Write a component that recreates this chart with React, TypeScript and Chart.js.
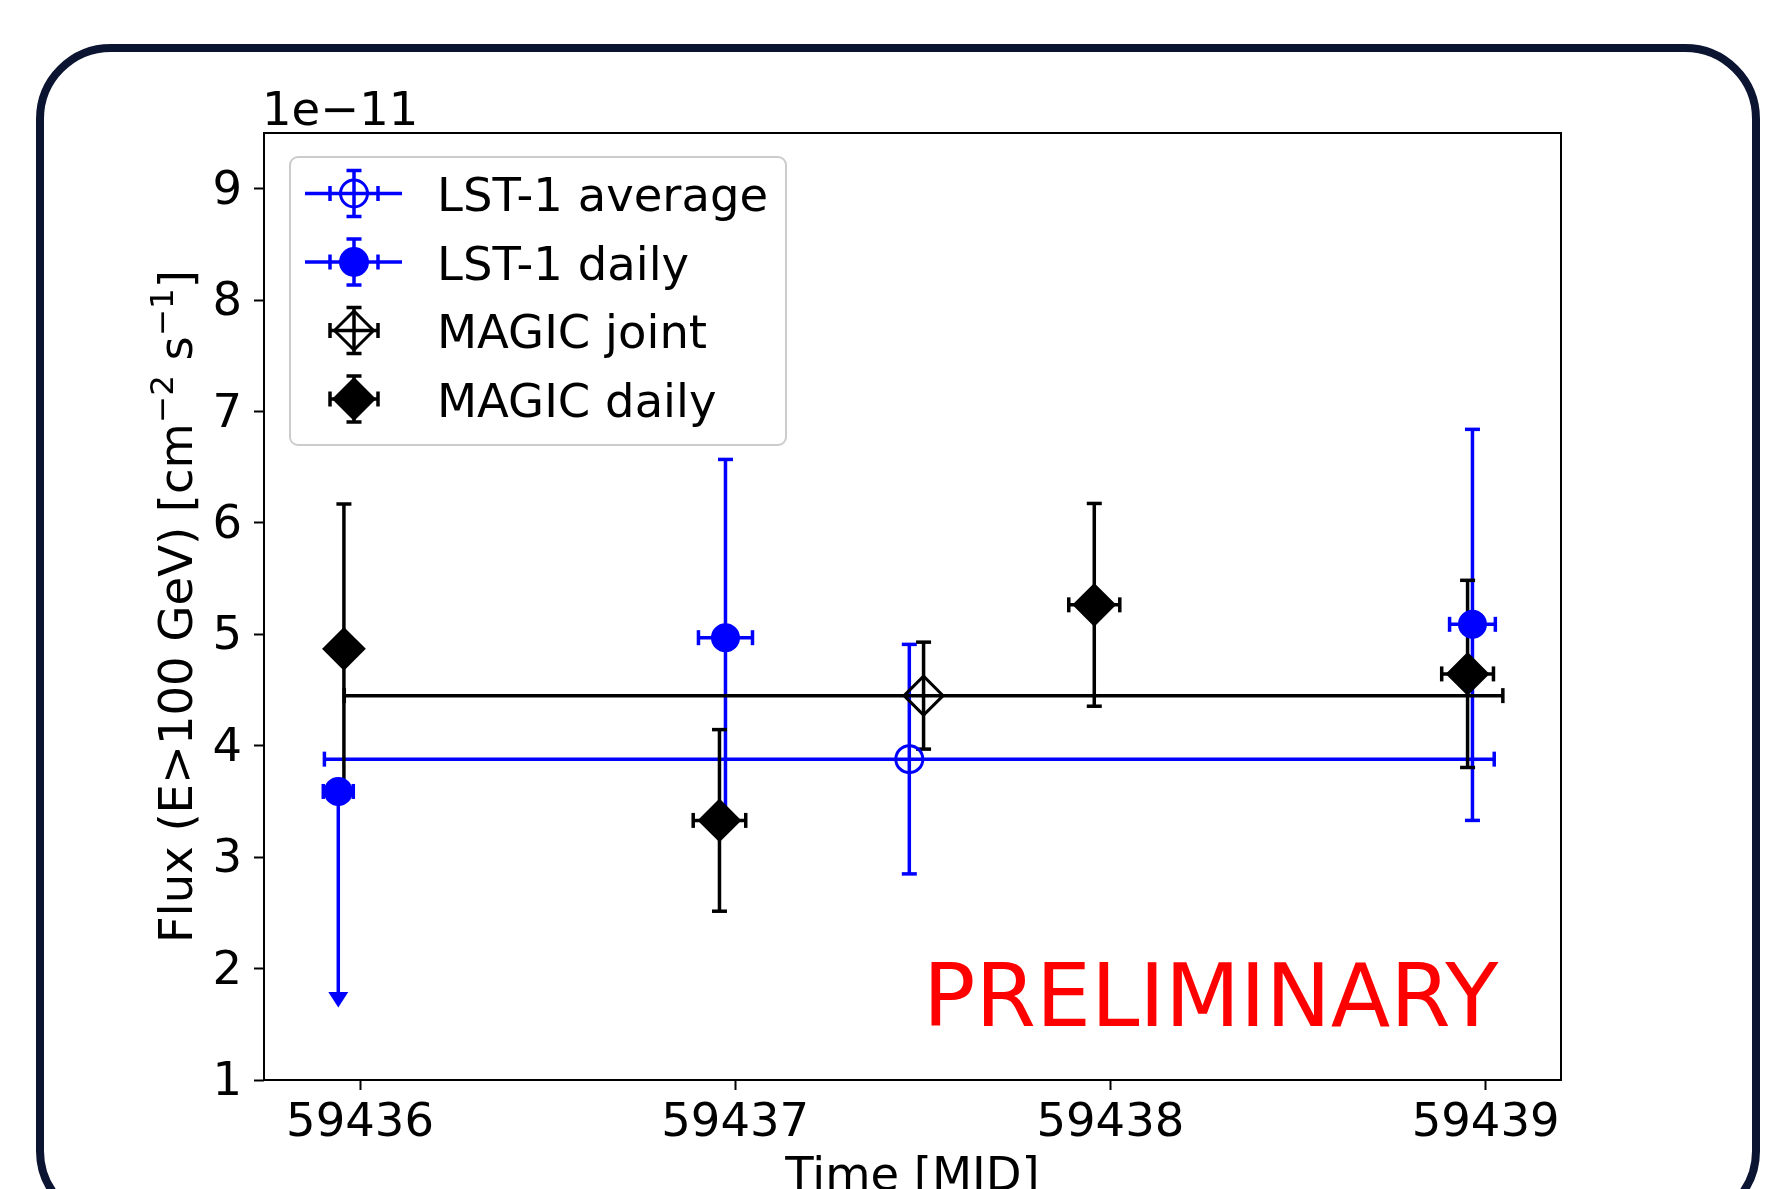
import React, { useEffect, useRef } from 'react';
import { Chart, registerables } from 'chart.js';

Chart.register(...registerables);

const FONT = '"DejaVu Sans", "Liberation Sans", sans-serif';
const BLUE = '#0000ff';
const BLACK = '#000000';
const FS = 46.5;

// ---------------- data ----------------
const xTicks = [59436, 59437, 59438, 59439];
const yTicks = [1, 2, 3, 4, 5, 6, 7, 8, 9];
const X_MIN = 59435.744;
const X_MAX = 59439.201;
const Y_MIN = 1;
const Y_MAX = 9.5;

// LST-1 average (flux in units of 1e-11 cm^-2 s^-1)
const lstAvgMJD = [59437.464];
const lstAvgFlux = [3.88];
const lstAvgXErr = [1.559];
const lstAvgYErr = [1.03];

// LST-1 daily
const lstDailyMJD = [59435.942, 59436.974, 59438.965];
const lstDailyFlux = [3.59, 4.97, 5.09];
const lstDailyXErr = [0.04, 0.072, 0.061];
const lstDailyYErrLow = [1.8, 1.6, 1.76];
const lstDailyYErrHigh = [0, 1.6, 1.75];
const lstDailyUpperLimit = [true, false, false];

// MAGIC joint
const magicJointMJD = [59437.502];
const magicJointFlux = [4.45];
const magicJointXErr = [1.544];
const magicJointYErr = [0.48];

// MAGIC daily
const magicDailyMJD = [59435.957, 59436.958, 59437.957, 59438.952];
const magicDailyFlux = [4.87, 3.33, 5.265, 4.645];
const magicDailyXErr = [0, 0.07, 0.068, 0.069];
const magicDailyYErr = [1.3, 0.815, 0.91, 0.84];

const legendLabels = ['LST-1 average', 'LST-1 daily', 'MAGIC joint', 'MAGIC daily'];

// -------------- derived structures --------------
type EB = { x: number; y: number; xerr: number; lo: number; hi: number; ul: boolean };

const errorSeries: { color: string; pts: EB[] }[] = [
  {
    color: BLUE,
    pts: lstAvgMJD.map((x, i) => ({ x, y: lstAvgFlux[i], xerr: lstAvgXErr[i], lo: lstAvgYErr[i], hi: lstAvgYErr[i], ul: false })),
  },
  {
    color: BLUE,
    pts: lstDailyMJD.map((x, i) => ({
      x,
      y: lstDailyFlux[i],
      xerr: lstDailyXErr[i],
      lo: lstDailyYErrLow[i],
      hi: lstDailyYErrHigh[i],
      ul: lstDailyUpperLimit[i],
    })),
  },
  {
    color: BLACK,
    pts: magicJointMJD.map((x, i) => ({ x, y: magicJointFlux[i], xerr: magicJointXErr[i], lo: magicJointYErr[i], hi: magicJointYErr[i], ul: false })),
  },
  {
    color: BLACK,
    pts: magicDailyMJD.map((x, i) => ({ x, y: magicDailyFlux[i], xerr: magicDailyXErr[i], lo: magicDailyYErr[i], hi: magicDailyYErr[i], ul: false })),
  },
];

const LW = 3.5;
const CAP = 7.5;

function seg(ctx: CanvasRenderingContext2D, x0: number, y0: number, x1: number, y1: number) {
  ctx.beginPath();
  ctx.moveTo(x0, y0);
  ctx.lineTo(x1, y1);
  ctx.stroke();
}

const errorBarPlugin = {
  id: 'errorBars',
  beforeDatasetsDraw(chart: any) {
    const { ctx, scales } = chart;
    const xs = scales.x;
    const ys = scales.y;
    ctx.save();
    ctx.lineWidth = LW;
    ctx.lineCap = 'butt';
    for (const s of errorSeries) {
      ctx.strokeStyle = s.color;
      ctx.fillStyle = s.color;
      for (const p of s.pts) {
        const px = xs.getPixelForValue(p.x);
        const py = ys.getPixelForValue(p.y);
        if (p.xerr > 0) {
          const x0 = xs.getPixelForValue(p.x - p.xerr);
          const x1 = xs.getPixelForValue(p.x + p.xerr);
          seg(ctx, x0, py, x1, py);
          seg(ctx, x0, py - CAP, x0, py + CAP);
          seg(ctx, x1, py - CAP, x1, py + CAP);
        }
        const yTop = ys.getPixelForValue(p.y + p.hi);
        const yBot = ys.getPixelForValue(p.y - p.lo);
        seg(ctx, px, yTop, px, yBot);
        if (p.hi > 0) seg(ctx, px - CAP, yTop, px + CAP, yTop);
        if (p.ul) {
          ctx.beginPath();
          ctx.moveTo(px - 10, yBot);
          ctx.lineTo(px + 10, yBot);
          ctx.lineTo(px, yBot + 15.5);
          ctx.closePath();
          ctx.fill();
        } else {
          seg(ctx, px - CAP, yBot, px + CAP, yBot);
        }
      }
    }
    ctx.restore();
  },
};

const framePlugin = {
  id: 'frame',
  afterDatasetsDraw(chart: any) {
    const { ctx, chartArea } = chart;
    ctx.save();
    ctx.strokeStyle = BLACK;
    ctx.lineWidth = 2;
    ctx.strokeRect(chartArea.left, chartArea.top, chartArea.right - chartArea.left, chartArea.bottom - chartArea.top);
    ctx.restore();
  },
};

function drawLegendHandle(ctx: CanvasRenderingContext2D, idx: number, cx: number, cy: number) {
  const color = idx < 2 ? BLUE : BLACK;
  ctx.strokeStyle = color;
  ctx.fillStyle = color;
  ctx.lineWidth = LW;
  if (idx < 2) seg(ctx, cx - 49, cy, cx + 48, cy);
  else seg(ctx, cx - 24, cy, cx + 24, cy);
  seg(ctx, cx - 24, cy - CAP, cx - 24, cy + CAP);
  seg(ctx, cx + 24, cy - CAP, cx + 24, cy + CAP);
  seg(ctx, cx, cy - 23, cx, cy + 23);
  seg(ctx, cx - CAP, cy - 23, cx + CAP, cy - 23);
  seg(ctx, cx - CAP, cy + 23, cx + CAP, cy + 23);
  ctx.beginPath();
  if (idx === 0) {
    ctx.lineWidth = 3;
    ctx.arc(cx, cy, 13.5, 0, Math.PI * 2);
    ctx.stroke();
  } else if (idx === 1) {
    ctx.arc(cx, cy, 15, 0, Math.PI * 2);
    ctx.fill();
  } else {
    const r = idx === 2 ? 19.5 : 22;
    ctx.moveTo(cx - r, cy);
    ctx.lineTo(cx, cy - r);
    ctx.lineTo(cx + r, cy);
    ctx.lineTo(cx, cy + r);
    ctx.closePath();
    if (idx === 2) {
      ctx.lineWidth = 3;
      ctx.lineJoin = 'miter';
      ctx.stroke();
    } else {
      ctx.fill();
    }
  }
}

function roundRect(ctx: CanvasRenderingContext2D, x: number, y: number, w: number, h: number, r: number) {
  ctx.beginPath();
  ctx.moveTo(x + r, y);
  ctx.lineTo(x + w - r, y);
  ctx.arcTo(x + w, y, x + w, y + r, r);
  ctx.lineTo(x + w, y + h - r);
  ctx.arcTo(x + w, y + h, x + w - r, y + h, r);
  ctx.lineTo(x + r, y + h);
  ctx.arcTo(x, y + h, x, y + h - r, r);
  ctx.lineTo(x, y + r);
  ctx.arcTo(x, y, x + r, y, r);
  ctx.closePath();
}

const textPlugin = {
  id: 'texts',
  afterDraw(chart: any) {
    const { ctx, chartArea } = chart;
    ctx.save();
    ctx.fillStyle = BLACK;
    ctx.textBaseline = 'alphabetic';

    // offset text
    ctx.font = `${FS}px ${FONT}`;
    ctx.textAlign = 'left';
    ctx.fillText('1e\u221211', chartArea.left - 2, 125);

    // x title
    ctx.textAlign = 'center';
    ctx.fillText('Time [MJD]', (chartArea.left + chartArea.right) / 2, 1190);

    // y title with superscripts
    const parts = [
      { t: 'Flux (E>100 GeV) [cm', sup: false },
      { t: '\u22122', sup: true },
      { t: ' s', sup: false },
      { t: '\u22121', sup: true },
      { t: ']', sup: false },
    ];
    const mainFont = `${FS}px ${FONT}`;
    const supFont = `${FS * 0.7}px ${FONT}`;
    let total = 0;
    for (const p of parts) {
      ctx.font = p.sup ? supFont : mainFont;
      total += ctx.measureText(p.t).width;
    }
    ctx.save();
    ctx.translate(192, (chartArea.top + chartArea.bottom) / 2);
    ctx.rotate(-Math.PI / 2);
    ctx.textAlign = 'left';
    let xx = -total / 2;
    for (const p of parts) {
      ctx.font = p.sup ? supFont : mainFont;
      ctx.fillText(p.t, xx, p.sup ? -19.5 : 0);
      xx += ctx.measureText(p.t).width;
    }
    ctx.restore();

    // PRELIMINARY
    ctx.fillStyle = '#ff0000';
    ctx.font = `87px ${FONT}`;
    ctx.textAlign = 'left';
    ctx.fillText('PRELIMINARY', 923, 1026);

    // legend
    ctx.fillStyle = 'rgba(255,255,255,0.8)';
    roundRect(ctx, 290, 157, 496, 288, 8);
    ctx.fill();
    ctx.strokeStyle = '#cccccc';
    ctx.lineWidth = 2;
    ctx.stroke();
    const rowY = [193.5, 262, 330.5, 399];
    legendLabels.forEach((lab, i) => {
      ctx.save();
      drawLegendHandle(ctx, i, 354, rowY[i]);
      ctx.restore();
      ctx.fillStyle = BLACK;
      ctx.font = `${FS}px ${FONT}`;
      ctx.textAlign = 'left';
      ctx.textBaseline = 'alphabetic';
      ctx.fillText(lab, 437, rowY[i] + 17.5);
    });
    ctx.restore();
  },
};

export default function App() {
  const canvasRef = useRef<HTMLCanvasElement | null>(null);

  useEffect(() => {
    const canvas = canvasRef.current;
    if (!canvas) return;
    const toPts = (xs: number[], ys: number[]) => xs.map((x, i) => ({ x, y: ys[i] }));
    const tickFont = { family: FONT, size: FS };
    const axisCommon = {
      type: 'linear' as const,
      border: { display: false },
      grid: {
        display: true,
        drawOnChartArea: false,
        drawTicks: true,
        tickLength: 10,
        tickWidth: 2,
        tickColor: BLACK,
      },
    };
    const chart = new Chart(canvas, {
      type: 'scatter',
      data: {
        datasets: [
          {
            label: legendLabels[0],
            data: toPts(lstAvgMJD, lstAvgFlux),
            pointStyle: 'circle',
            pointRadius: 13.5,
            pointHoverRadius: 13.5,
            backgroundColor: 'rgba(0,0,0,0)',
            borderColor: BLUE,
            borderWidth: 3,
            order: 3,
          },
          {
            label: legendLabels[1],
            data: toPts(lstDailyMJD, lstDailyFlux),
            pointStyle: 'circle',
            pointRadius: 13.5,
            pointHoverRadius: 13.5,
            backgroundColor: BLUE,
            borderColor: BLUE,
            borderWidth: 2,
            order: 2,
          },
          {
            label: legendLabels[2],
            data: toPts(magicJointMJD, magicJointFlux),
            pointStyle: 'rectRot',
            pointRadius: 19.5,
            pointHoverRadius: 19.5,
            backgroundColor: 'rgba(0,0,0,0)',
            borderColor: BLACK,
            borderWidth: 3,
            order: 1,
          },
          {
            label: legendLabels[3],
            data: toPts(magicDailyMJD, magicDailyFlux),
            pointStyle: 'rectRot',
            pointRadius: 20.5,
            pointHoverRadius: 20.5,
            backgroundColor: BLACK,
            borderColor: BLACK,
            borderWidth: 2,
            order: 0,
          },
        ],
      },
      options: {
        responsive: false,
        devicePixelRatio: 1,
        animation: false,
        events: [],
        layout: { padding: { left: 0, top: 133, right: 226, bottom: 0 } },
        plugins: {
          legend: { display: false },
          tooltip: { enabled: false },
          title: { display: false },
        },
        scales: {
          x: {
            ...axisCommon,
            position: 'bottom',
            min: X_MIN,
            max: X_MAX,
            afterFit: (s: any) => {
              s.height = 109;
            },
            afterBuildTicks: (s: any) => {
              s.ticks = xTicks.map((v) => ({ value: v }));
            },
            ticks: {
              font: tickFont,
              color: BLACK,
              padding: 6,
              maxRotation: 0,
              autoSkip: false,
              callback: (v: any) => String(v),
            },
          },
          y: {
            ...axisCommon,
            position: 'left',
            min: Y_MIN,
            max: Y_MAX,
            afterFit: (s: any) => {
              s.width = 264;
            },
            afterBuildTicks: (s: any) => {
              s.ticks = yTicks.map((v) => ({ value: v }));
            },
            ticks: {
              font: tickFont,
              color: BLACK,
              padding: 12,
              labelOffset: 3,
              autoSkip: false,
              callback: (v: any) => String(v),
            },
          },
        },
      } as any,
      plugins: [errorBarPlugin, framePlugin, textPlugin],
    });
    return () => chart.destroy();
  }, []);

  return (
    <div style={{ position: 'fixed', left: 0, top: 0, width: 1787, height: 1189, background: '#ffffff', overflow: 'hidden' }}>
      <div
        style={{
          position: 'absolute',
          left: 36,
          top: 44,
          width: 1724,
          height: 1182,
          boxSizing: 'border-box',
          border: '8px solid #0b1431',
          borderRadius: 75,
        }}
      />
      <canvas ref={canvasRef} width={1787} height={1189} style={{ position: 'absolute', left: 0, top: 0 }} />
    </div>
  );
}
